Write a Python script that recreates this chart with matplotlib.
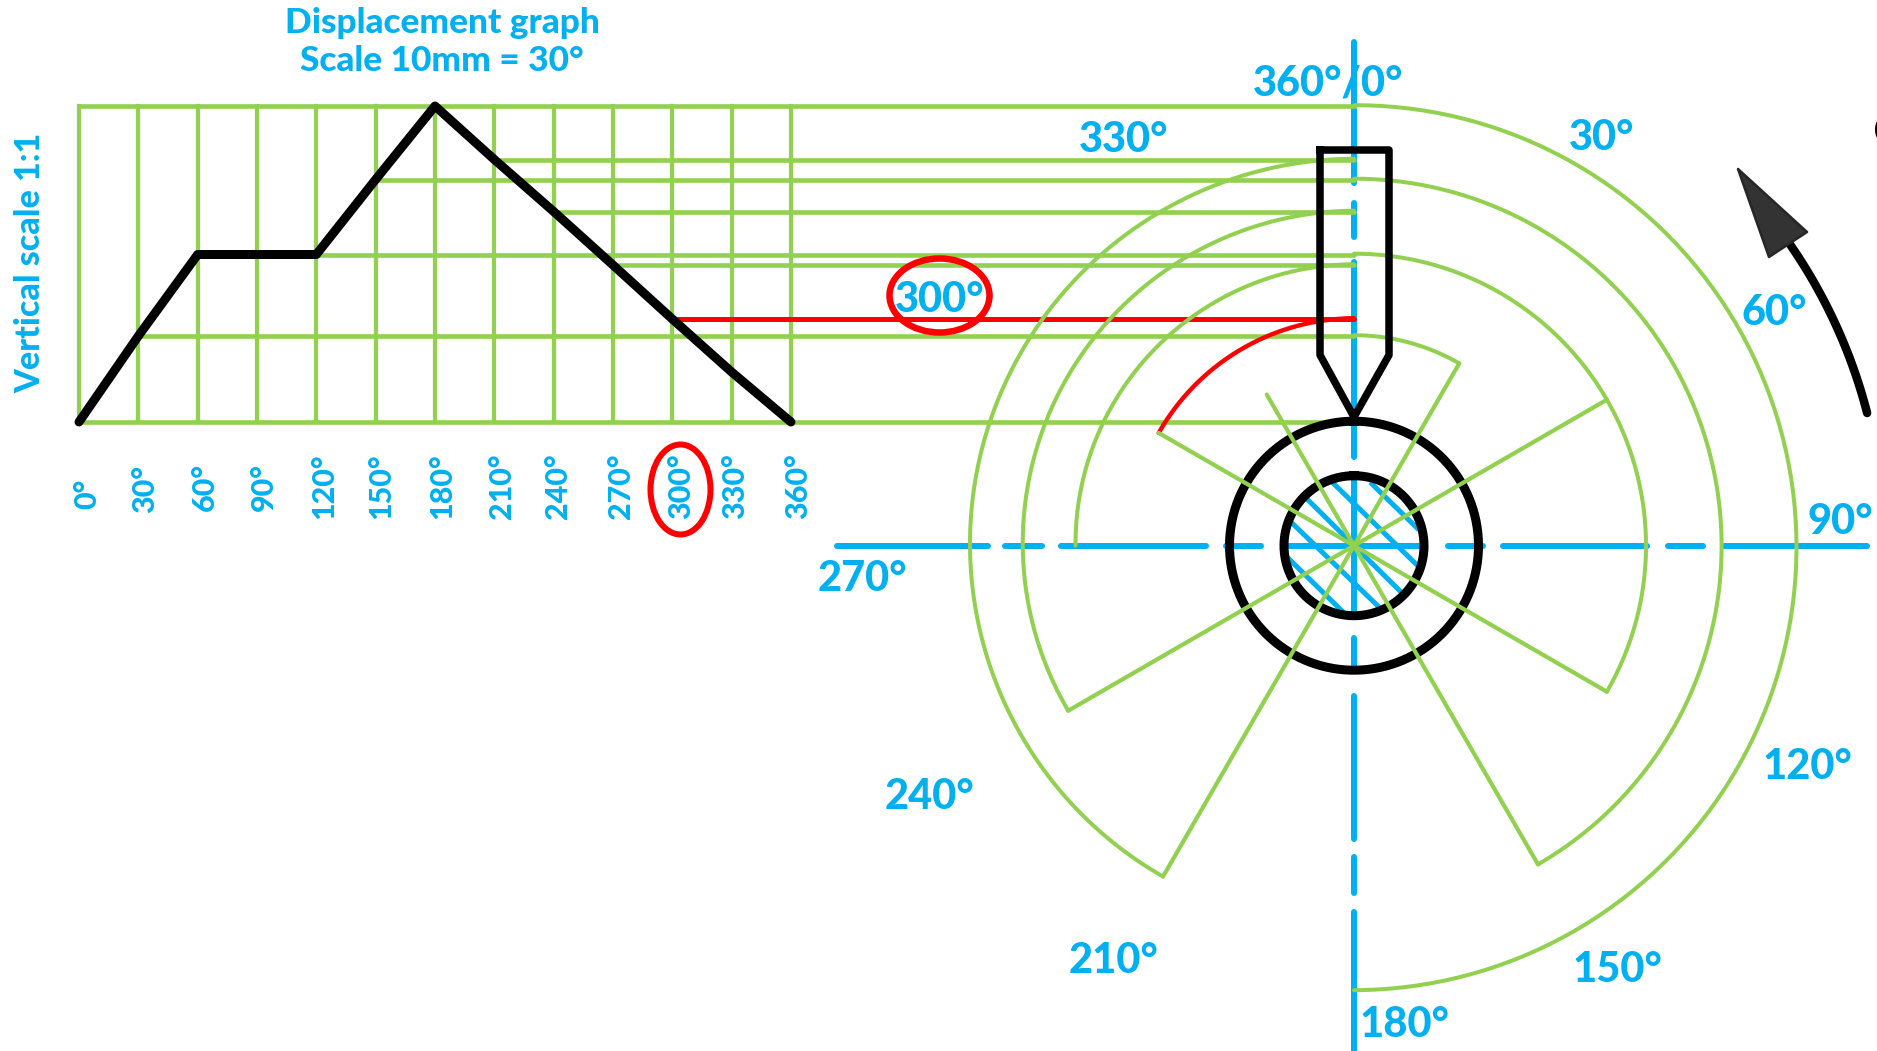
import numpy as np
import matplotlib
matplotlib.use('Agg')
import matplotlib.pyplot as plt
from matplotlib.patches import Ellipse, Polygon

# displacement graph, lift in pixels of the drawing for every 30 degrees of cam rotation
angles = [0, 30, 60, 90, 120, 150, 180, 210, 240, 270, 300, 330, 360]
lift = [0, 86, 167.5, 167.5, 167.5, 242.5, 316, 262.5, 210.5, 157, 103, 50, 0]
tick_labels = ['0°', '30°', '60°', '90°', '120°', '150°', '180°', '210°', '240°', '270°', '300°', '330°', '360°']
tick_x = [87, 145, 205, 264, 324, 381, 442, 502, 558, 621, 681, 735, 798]
tick_bottom = [509, 513, 511, 511, 519, 519, 519, 519, 519, 519, 519, 519, 519]

# which angles get a projected arc on the cam profile, and which a spoke
right_arcs = [30, 120, 150, 180]
left_arcs = [210, 240, 270]
red_angle = 300
spokes = [30, 60, 120, 150, 210, 240, 300, 330]
# the hand drawn arcs drift off the true radius towards their far end
arc_drift = {30: 0, 60: 0, 120: 0, 150: 1, 180: 4, 210: -5, 240: -5, 270: -3, 300: -2, 330: 0}

cam_labels = ['330°', '30°', '60°', '90°', '120°', '150°', '180°', '210°', '240°', '270°', '300°']
cam_label_x = [1124, 1602, 1774, 1840, 1807, 1617, 1404, 1114, 929, 862, 940]
cam_label_y = [140, 138, 313, 522, 767, 970, 1025, 961, 797, 579, 300]

BLUE = '#00b0f0'
GREEN = '#92d050'
RED = '#ff0000'
FONT = 'Lato'
PX = 0.72  # one pixel in points at dpi 100

# graph and cam placement on the canvas
gx0, gstep = 79.0, 59.33
gy0 = 422.0
cx, cy = 1354.0, 545.7
base_r = 124.5


def gx(a):
    return gx0 + a / 30 * gstep


def gy(l):
    return gy0 - l


def pol(a, r):
    a = np.radians(a)
    return cx + r * np.sin(a), cy - r * np.cos(a)


def lift_at(a):
    return lift[angles.index(a)]


def end_radius(a):
    return base_r + lift_at(a) + arc_drift[a]


def arc(a, color=GREEN, lw=4.0):
    # runs from the top of the cam round to angle a, on the shorter way
    stop = a if a <= 180 else a - 360
    t = np.linspace(0, stop, 200)
    r = base_r + lift_at(a) + arc_drift[a] * t / stop
    x, y = pol(t, r)
    ax.plot(x, y, color=color, lw=lw * PX, solid_capstyle='round', zorder=3)


fig = plt.figure(figsize=(18.77, 10.51), dpi=100)
ax = fig.add_axes([0, 0, 1, 1])
ax.set_xlim(0, 1877)
ax.set_ylim(1051, 0)
ax.axis('off')

# graph grid
for a in angles:
    ax.plot([gx(a), gx(a)], [gy0, gy0 - max(lift)], color=GREEN, lw=4.2 * PX, zorder=2)
ax.plot([gx0, cx], [gy(max(lift)), gy(max(lift))], color=GREEN, lw=4.6 * PX, zorder=2)
ax.plot([gx0, 1325], [gy0, gy0], color=GREEN, lw=4.6 * PX, zorder=2)

# projection lines from the graph across to the cam
for a in [30, 120, 150, 210, 240, 270]:
    y = gy(lift_at(a))
    ax.plot([gx(a), cx], [y, y], color=GREEN, lw=4.6 * PX, solid_capstyle='round', zorder=2)
y = gy(lift_at(red_angle))
ax.plot([gx(red_angle), cx], [y, y], color=RED, lw=5 * PX, solid_capstyle='round', zorder=3)

# centre lines
hdash = [(837, 988), (1005, 1042), (1061, 1206), (1226, 1261), (1287, 1420), (1448, 1483),
         (1503, 1647), (1668, 1703), (1724, 1867)]
vdash = [(42, 183), (203, 237), (262, 410), (426, 457), (480, 613), (638, 667),
         (696, 839), (857, 893), (912, 1060)]
for d in hdash:
    ax.plot(d, [cy, cy], color=BLUE, lw=6 * PX, solid_capstyle='round', zorder=1)
for d in vdash:
    ax.plot([cx, cx], d, color=BLUE, lw=6 * PX, solid_capstyle='round', zorder=1)

# hatching of the shaft
hatch = [((1333, 483), (1418, 566)), ((1372, 484), (1417, 528)), ((1307, 499), (1402, 593)),
         ((1292, 523), (1380, 608)), ((1288, 558), (1343, 612))]
for p, q in hatch:
    ax.plot([p[0], q[0]], [p[1], q[1]], color=BLUE, lw=5 * PX, zorder=1)

# cam profile arcs and spokes
for a in right_arcs + left_arcs:
    arc(a)
arc(red_angle, color=RED, lw=4.4)
for a in spokes:
    x, y = pol(a, end_radius(a))
    ax.plot([cx, x], [cy, y], color=GREEN, lw=4.2 * PX, solid_capstyle='round', zorder=4)

# camshaft circles
for r in [base_r, 70.0]:
    t = np.linspace(0, 360, 400)
    x, y = pol(t, r)
    ax.plot(x, y, color='black', lw=9 * PX, zorder=3.5)

# follower
fx = [1320, 1389, 1389, cx, 1320, 1320]
fy = [150, 150, 355, 417, 355, 150]
ax.plot(fx, fy, color='black', lw=7.5 * PX, solid_joinstyle='round', zorder=5)

# displacement line
ax.plot([gx(a) for a in angles], [gy(l) for l in lift], color='black', lw=9 * PX,
        solid_joinstyle='round', solid_capstyle='round', zorder=5)

# rotation arrow
t = np.linspace(75.5, 55.4, 60)
x, y = pol(t, 530)
ax.plot(x, y, color='black', lw=8.5 * PX, solid_capstyle='round', zorder=5)
ax.add_patch(Polygon([(1738, 169), (1807, 232), (1769, 257)], closed=True, facecolor='#333333',
                     edgecolor='#262626', lw=2.5 * PX, joinstyle='round', zorder=6))

# red rings
ax.add_patch(Ellipse((680.5, 489.5), 60, 90, fill=False, edgecolor=RED, lw=6 * PX, zorder=6))
ax.add_patch(Ellipse((939.5, 295.5), 100, 74, fill=False, edgecolor=RED, lw=6.5 * PX, zorder=6))

# text
ax.text(442, 23, 'Displacement graph', color=BLUE, fontsize=25.4, family=FONT, weight='black',
        ha='center', va='center')
ax.text(442, 61, 'Scale 10mm = 30°', color=BLUE, fontsize=25.4, family=FONT, weight='black',
        ha='center', va='center')
ax.text(30, 263, 'Vertical scale 1:1', color=BLUE, fontsize=24.5, family=FONT, weight='black',
        rotation=90, ha='center', va='center')
for s, x, y in zip(tick_labels, tick_x, tick_bottom):
    ax.text(x, y, s, color=BLUE, fontsize=22, family=FONT, weight='black', rotation=90,
            ha='center', va='bottom')
for s, x, y in zip(cam_labels, cam_label_x, cam_label_y):
    ax.text(x, y, s, color=BLUE, fontsize=30, family=FONT, weight='black', ha='center', va='center', zorder=7)
ax.text(1328, 83, '360°/0°', color=BLUE, fontsize=30, family=FONT, weight='black', ha='center', va='center', zorder=7)
ax.text(1873, 133, 'C', color='black', fontsize=30, family=FONT, ha='left', va='center')

fig.savefig('out.png', dpi=100, facecolor='white')
